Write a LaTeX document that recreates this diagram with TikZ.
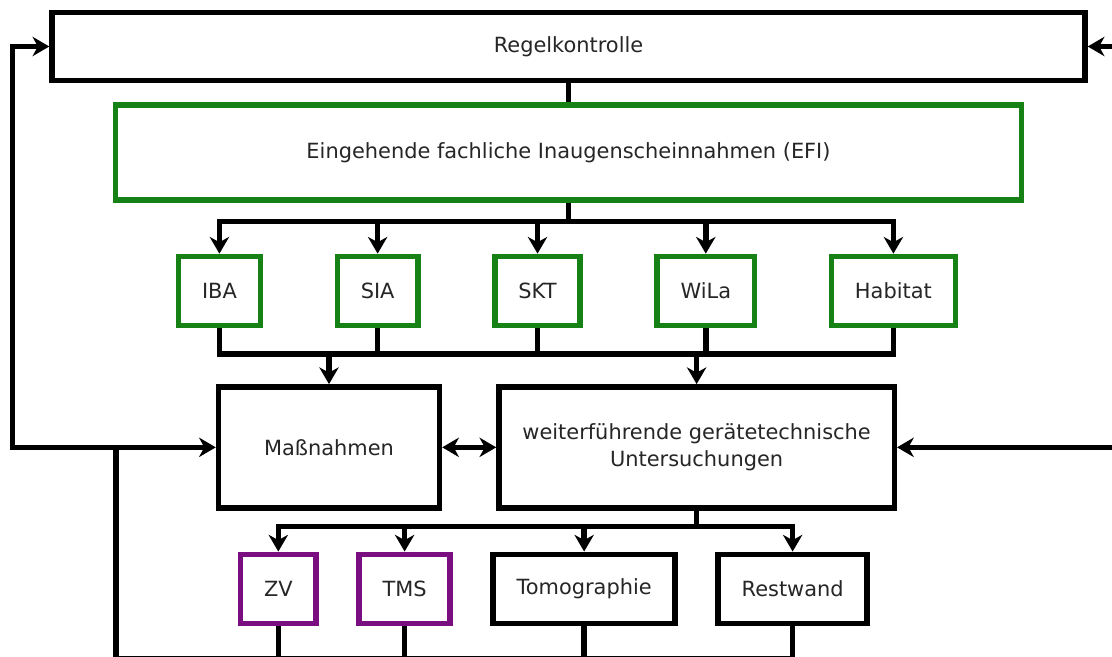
\documentclass[tikz,border=0pt]{standalone}
\usepackage{fontspec}
\setmainfont{DejaVu Sans}
\usetikzlibrary{positioning}
\usetikzlibrary{arrows.meta}

\definecolor{efigreen}{RGB}{22,130,22}
\definecolor{tmspurple}{RGB}{122,14,128}

\begin{document}
\begin{tikzpicture}[
        >={Stealth[length=9.5pt, width=11pt, inset=3pt]},
        line width=3.1pt,
        squarednode/.style={rectangle, draw, fill=white, text=black!85, font=\fontsize{11.9}{15.6}\selectfont, inner xsep=0.47cm, minimum height=1.38cm},
        greennode/.style={squarednode, draw=efigreen},
        purplenode/.style={squarednode, draw=tmspurple},
        widenode/.style={squarednode, minimum height=2.42cm, align=center},
    ]
    \useasboundingbox (0,0) rectangle (22.24,-13.14);

    %Nodes
    \node[squarednode, minimum width=20.66cm, minimum height=1.36cm] (regel) at (11.37,-0.93) {Regelkontrolle};
    \node[greennode, minimum width=18.12cm, minimum height=1.9cm] (efi) [below=0.38cm of regel] {Eingehende fachliche Inaugenscheinnahmen (EFI)};

    \node[greennode]    (iba)     [below right=1.02cm and 1.26cm of efi.south west] {IBA};
    \node[greennode]    (sia)     [right=1.43cm of iba]   {SIA};
    \node[greennode]    (skt)     [right=1.43cm of sia]   {SKT};
    \node[greennode]    (wila)    [right=1.43cm of skt]   {WiLa};
    \node[greennode]    (habitat) [right=1.43cm of wila]  {Habitat};

    \node[widenode, minimum width=4.42cm] (mass)   [below right=1.12cm and 0.8cm of iba.south west] {Maßnahmen};
    \node[widenode, minimum width=7.75cm] (weiter) [right=1.08cm of mass] {weiterführende gerätetechnische\\Untersuchungen};

    \node[purplenode]   (zv)      [below right=0.82cm and 0.44cm of mass.south west] {ZV};
    \node[purplenode]   (tms)     [right=0.75cm of zv]    {TMS};
    \node[squarednode]  (tomo)    [right=0.75cm of tms]   {Tomographie};
    \node[squarednode]  (rest)    [right=0.75cm of tomo]  {Restwand};

    %Lines
    \coordinate[below=0.38cm of efi.south]    (busA);
    \coordinate[below=0.52cm of iba.south]    (busB);
    \coordinate[below=0.32cm of weiter.south] (busC);
    \coordinate[below=0.65cm of rest.south]   (busD);
    \coordinate[left=4.06cm of mass.west]     (lcorner);
    \coordinate[left=2cm of mass.west]        (ltap);
    \coordinate[right=4.42cm of weiter.east]  (rcorner);

    \draw (regel.south) -- (efi.north);
    \foreach \n in {iba,sia,skt,wila,habitat}
        \draw[->] (efi.south) -- (busA) -| (\n.north);

    \foreach \n in {iba,sia,skt,wila,habitat}
        \draw (\n.south) |- (busB -| mass.north);
    \draw[->] (busB -| mass.north) -- (mass.north);
    \draw[->] (busB -| weiter.north) -- (weiter.north);

    \draw[<->] (mass.east) -- (weiter.west);

    \foreach \n in {zv,tms,tomo,rest}
        \draw[->] (weiter.south) -- (busC) -| (\n.north);
    \foreach \n in {zv,tms,tomo,rest}
        \draw (\n.south) |- (ltap |- busD) -- (ltap);

    \draw[<->] (regel.west) -| (lcorner) -- (mass.west);
    \draw[<->] (regel.east) -| (rcorner) -- (weiter.east);
\end{tikzpicture}
\end{document}
